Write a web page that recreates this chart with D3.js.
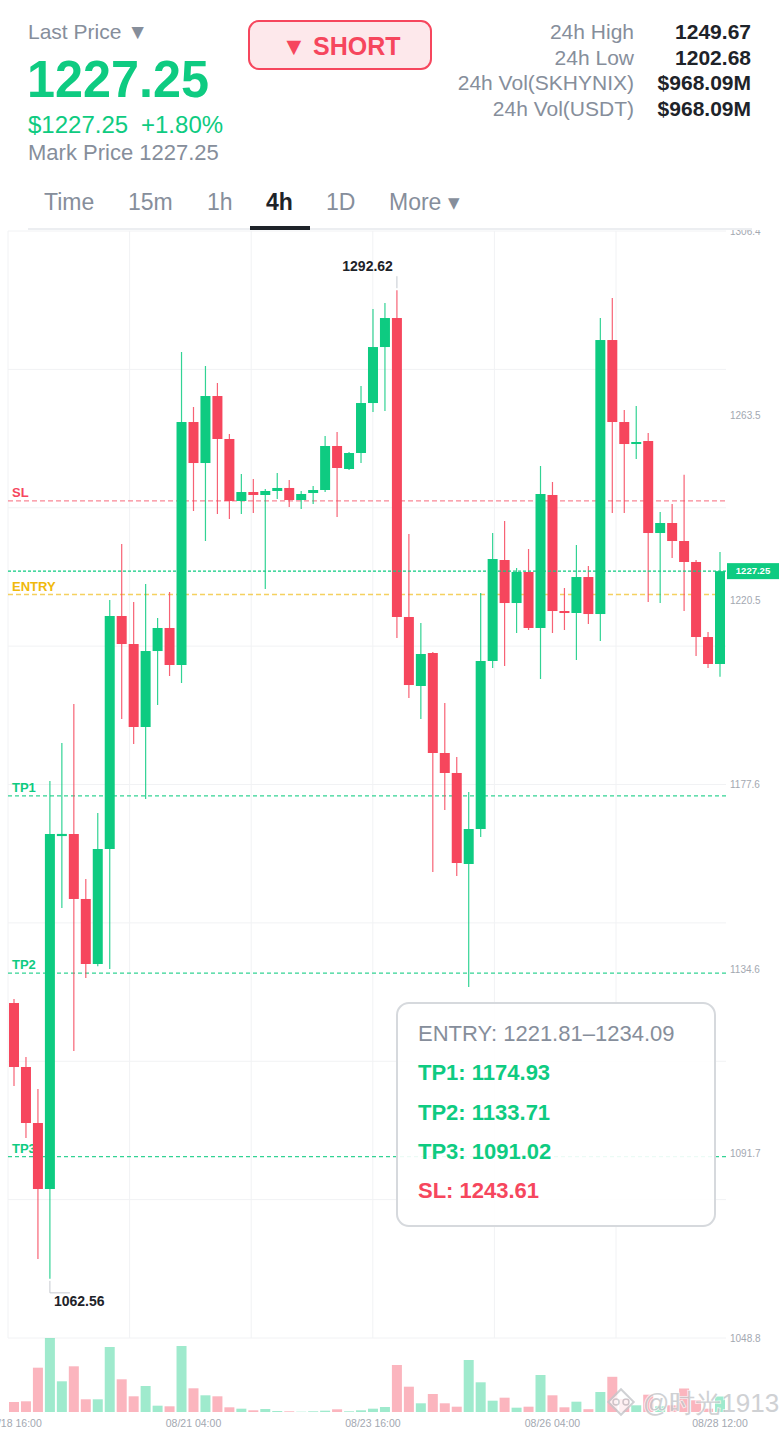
<!DOCTYPE html>
<html><head><meta charset="utf-8">
<script src="https://cdn.jsdelivr.net/npm/d3@7"></script>
<style>
body{margin:0;background:#fff}
svg{display:block}
text{font-family:"Liberation Sans",Arial,Helvetica,sans-serif}
</style>
</head><body>
<svg id="c" width="780" height="1430"></svg>
<script>
// ---------- DATA ----------
const openP = [1126.75,1111.86,1098.83,1083.47,1165.60,1166.08,1150.96,1135.83,1162.59,1216.81,
 1210.29,1190.98,1208.66,1214.02,1205.41,1261.95,1252.41,1268.00,1258.00,1243.57,
 1245.66,1244.97,1245.90,1246.60,1243.80,1245.43,1246.13,1256.37,1251.02,1254.74,
 1266.37,1279.40,1286.15,1216.58,1200.52,1208.20,1184.93,1180.28,1159.10,1167.24,
 1206.34,1229.84,1219.83,1227.05,1214.02,1244.97,1217.97,1217.51,1225.88,1217.27,
 1281.03,1261.95,1256.83,1257.53,1236.12,1238.45,1234.26,1229.38,1211.92,1205.64];
const highP = [1127.69,1114.19,1106.74,1178.41,1187.26,1196.33,1155.61,1170.97,1220.53,1233.56,
 1220.07,1224.26,1216.34,1222.39,1278.24,1265.44,1274.98,1271.03,1259.16,1249.85,
 1248.69,1246.36,1250.09,1248.46,1245.90,1247.06,1258.70,1259.63,1254.97,1270.33,
 1288.25,1289.64,1292.62,1235.89,1215.18,1208.43,1196.56,1184.00,1175.85,1222.16,
 1236.12,1238.92,1227.98,1232.40,1251.71,1247.99,1223.33,1233.33,1228.44,1286.15,
 1290.81,1264.75,1265.68,1259.39,1241.01,1242.87,1249.67,1229.84,1213.09,1231.70];
const lowP = [1107.44,1095.34,1067.18,1062.56,1148.86,1115.58,1132.57,1135.30,1134.67,1192.84,
 1187.02,1174.23,1196.10,1202.85,1201.22,1241.24,1234.26,1240.54,1239.38,1240.54,
 1240.78,1223.09,1244.04,1242.17,1241.71,1242.87,1245.66,1239.85,1250.78,1252.41,
 1264.28,1264.51,1211.69,1197.73,1192.84,1157.24,1171.67,1156.31,1130.48,1165.38,
 1204.71,1205.17,1212.85,1213.55,1202.15,1212.85,1213.55,1206.57,1214.95,1210.99,
 1240.78,1240.78,1253.34,1220.07,1219.83,1230.31,1217.97,1207.50,1204.71,1202.68];
const closeP = [1111.86,1098.83,1083.47,1166.08,1166.10,1150.96,1135.83,1162.59,1216.81,1210.29,
 1190.98,1208.66,1214.02,1205.41,1261.95,1252.41,1268.00,1258.00,1243.57,1245.66,
 1244.97,1245.90,1246.60,1243.80,1245.20,1246.13,1256.37,1251.25,1254.74,1266.37,
 1279.40,1286.15,1216.58,1200.75,1207.97,1184.93,1180.28,1159.33,1167.24,1206.34,
 1230.07,1219.83,1227.05,1214.02,1245.20,1217.97,1217.51,1225.88,1217.27,1281.03,
 1261.95,1256.83,1257.30,1236.12,1238.45,1234.26,1229.38,1211.92,1205.64,1227.25];
const volume = [100,107,443,740,307,457,127,127,650,327,157,260,63,57,660,237,167,157,47,33,
 17,30,10,7,3,7,13,27,7,17,33,50,470,253,87,180,87,53,520,297,
 113,143,43,53,370,167,47,103,28,200,352,130,67,173,57,67,235,117,33,155];

const xTickIndex = [0,15,30,45,59];
const xTickLabels = ["08/18 16:00","08/21 04:00","08/23 16:00","08/26 04:00","08/28 12:00"];
const yTickValues = [1306.4,1263.5,1220.5,1177.6,1134.6,1091.7,1048.8];
const yTickLabels = ["1306.4","1263.5","1220.5","1177.6","1134.6","1091.7","1048.8"];

const levelNames  = ["SL","ENTRY","TP1","TP2","TP3"];
const levelValues = [1243.61,1221.81,1174.93,1133.71,1091.02];
const levelKinds  = ["sl","entry","tp","tp","tp"];
const lastPrice = 1227.25;

const statLabels = ["24h High","24h Low","24h Vol(SKHYNIX)","24h Vol(USDT)"];
const statValues = ["1249.67","1202.68","$968.09M","$968.09M"];
const tabLabels  = ["Time","15m","1h","4h","1D","More \u25BE"];
const activeTab  = "4h";
const infoLines  = [
  {t:"ENTRY: 1221.81\u20131234.09", k:"entry"},
  {t:"TP1: 1174.93", k:"tp"},
  {t:"TP2: 1133.71", k:"tp"},
  {t:"TP3: 1091.02", k:"tp"},
  {t:"SL: 1243.61", k:"sl"}
];
const watermark = "@\u65F6\u51491913";

// ---------- STYLE ----------
const GREEN="#0ecb81", RED="#f6465d", YEL="#f0b90b", GRAY="#868e9b", DARK="#1e2329", AXIS="#a3a8b1";
const col = {sl:RED, entry:YEL, tp:GREEN};

const svg = d3.select("#c");
const n = openP.length;

// scales
const plotL = 8, plotR = 726, plotT = 231, plotB = 1338, volT = 1338, volB = 1412;
const x = d3.scaleLinear().domain([0, n-1]).range([14, 720]);
const y = d3.scaleLinear().domain([d3.min(yTickValues), d3.max(yTickValues)]).range([plotB, plotT]);
const yv = d3.scaleLinear().domain([0, d3.max(volume)]).range([volB, volT]);
const gx = d3.scaleLinear().domain([0, 6]).range([plotL, plotL + 6*121.6]);

// ---------- HEADER ----------
const H = svg.append("g");
H.append("text").attr("x",28).attr("y",39).attr("font-size",21).attr("fill",GRAY).text("Last Price \u25BC");
H.append("text").attr("x",27).attr("y",97).attr("font-size",51).attr("font-weight","bold").attr("fill",GREEN)
  .attr("textLength",182).attr("lengthAdjust","spacingAndGlyphs").text("1227.25");
H.append("text").attr("x",28).attr("y",133).attr("font-size",24).attr("fill",GREEN).text("$1227.25");
H.append("text").attr("x",141).attr("y",133).attr("font-size",24).attr("fill",GREEN).text("+1.80%");
H.append("text").attr("x",28).attr("y",160).attr("font-size",22).attr("fill",GRAY).text("Mark Price 1227.25");

H.append("rect").attr("x",249).attr("y",21).attr("width",182).attr("height",48).attr("rx",10)
  .attr("fill","#fde8eb").attr("stroke",RED).attr("stroke-width",2);
H.append("text").attr("x",341).attr("y",55).attr("text-anchor","middle").attr("font-size",25)
  .attr("font-weight","bold").attr("fill",RED).text("\u25BC SHORT");

const statY = d3.scaleLinear().domain([0,3]).range([39,116]);
statLabels.forEach((s,i)=>{
  H.append("text").attr("x",634).attr("y",statY(i)).attr("text-anchor","end").attr("font-size",21).attr("fill",GRAY).text(s);
  H.append("text").attr("x",751).attr("y",statY(i)).attr("text-anchor","end").attr("font-size",21)
    .attr("font-weight","bold").attr("fill",DARK).text(statValues[i]);
});

const tabX = [44,128,207,266,326,389];
tabLabels.forEach((t,i)=>{
  const a = t===activeTab;
  H.append("text").attr("x",tabX[i]).attr("y",210).attr("font-size",23)
    .attr("font-weight",a?"bold":"normal").attr("fill",a?DARK:GRAY).text(t);
});
H.append("line").attr("x1",28).attr("x2",752).attr("y1",229).attr("y2",229).attr("stroke","#eceef1").attr("stroke-width",2);
H.append("rect").attr("x",250).attr("y",226).attr("width",60).attr("height",4).attr("fill",DARK);

// ---------- CHART ----------
svg.append("clipPath").attr("id","clip").append("rect").attr("x",0).attr("y",230).attr("width",780).attr("height",1200);
const C = svg.append("g").attr("clip-path","url(#clip)");

// grid
C.append("g").selectAll("line").data(d3.range(9)).join("line")
  .attr("x1",plotL).attr("x2",plotR)
  .attr("y1",k=>plotB-(plotB-plotT)*k/8).attr("y2",k=>plotB-(plotB-plotT)*k/8)
  .attr("stroke","#f1f2f4").attr("stroke-width",1);
C.append("g").selectAll("line").data(d3.range(6)).join("line")
  .attr("x1",k=>gx(k)).attr("x2",k=>gx(k)).attr("y1",plotT).attr("y2",plotB)
  .attr("stroke","#f1f2f4").attr("stroke-width",1);

// right axis labels
C.append("g").selectAll("text").data(yTickValues).join("text")
  .attr("x",730).attr("y",d=>y(d)).attr("dy","0.35em").attr("font-size",10).attr("fill",AXIS)
  .text((d,i)=>yTickLabels[i]);

// volume
C.append("g").selectAll("rect").data(volume).join("rect")
  .attr("x",(d,i)=>x(i)-5).attr("width",10)
  .attr("y",d=>yv(d)).attr("height",d=>volB-yv(d))
  .attr("fill",(d,i)=>closeP[i]>=openP[i]?GREEN:RED).attr("fill-opacity",0.4);

// level lines
levelValues.forEach((v,i)=>{
  const k = levelKinds[i];
  C.append("line").attr("x1",plotL).attr("x2",plotR).attr("y1",y(v)).attr("y2",y(v))
    .attr("stroke",col[k]).attr("stroke-opacity",k==="tp"?0.85:0.65).attr("stroke-width",1.3)
    .attr("stroke-dasharray",k==="tp"?"4,3":"5,3");
  C.append("text").attr("x",12).attr("y",y(v)-4).attr("font-size",13).attr("font-weight","bold")
    .attr("fill",col[k]).text(levelNames[i]);
});

// candles
const cg = C.append("g");
d3.range(n).forEach(i=>{
  const up = closeP[i]>=openP[i];
  const c = up?GREEN:RED;
  cg.append("line").attr("x1",x(i)).attr("x2",x(i)).attr("y1",y(highP[i])).attr("y2",y(lowP[i]))
    .attr("stroke",c).attr("stroke-width",1.2).attr("stroke-opacity",0.85);
  const top = y(Math.max(openP[i],closeP[i])), bot = y(Math.min(openP[i],closeP[i]));
  cg.append("rect").attr("x",x(i)-5).attr("width",10).attr("y",top).attr("height",Math.max(2,bot-top)).attr("fill",c);
});

// last price line
C.append("line").attr("x1",plotL).attr("x2",plotR).attr("y1",y(lastPrice)).attr("y2",y(lastPrice))
  .attr("stroke",GREEN).attr("stroke-width",1.2).attr("stroke-dasharray","3,2");
C.append("rect").attr("x",727).attr("y",y(lastPrice)-8).attr("width",52).attr("height",16).attr("fill",GREEN);
C.append("text").attr("x",753).attr("y",y(lastPrice)).attr("dy","0.35em").attr("text-anchor","middle")
  .attr("font-size",9.5).attr("font-weight","bold").attr("fill","#fff").text(lastPrice.toFixed(2));

// high / low markers
const hi = d3.maxIndex(highP), lo = d3.minIndex(lowP);
C.append("line").attr("x1",x(hi)).attr("x2",x(hi)).attr("y1",y(highP[hi])-14).attr("y2",y(highP[hi])-2)
  .attr("stroke","#c5c9d0").attr("stroke-width",1);
C.append("text").attr("x",x(hi)-4).attr("y",y(highP[hi])-19).attr("text-anchor","end")
  .attr("font-size",14).attr("font-weight","bold").attr("fill",DARK).text(highP[hi].toFixed(2));
C.append("path").attr("d",`M${x(lo)},${y(lowP[lo])+2}V${y(lowP[lo])+14}H${x(lo)+20}`)
  .attr("fill","none").attr("stroke","#c5c9d0").attr("stroke-width",1);
C.append("text").attr("x",x(lo)+4).attr("y",y(lowP[lo])+27)
  .attr("font-size",14).attr("font-weight","bold").attr("fill",DARK).text(lowP[lo].toFixed(2));

// x axis labels
C.append("g").selectAll("text").data(xTickIndex).join("text")
  .attr("x",d=>x(d)).attr("y",1427).attr("text-anchor","middle").attr("font-size",10.5).attr("fill",AXIS)
  .text((d,i)=>xTickLabels[i]);

// info box
const B = svg.append("g");
B.append("rect").attr("x",397).attr("y",1003).attr("width",318).attr("height",223).attr("rx",12)
  .attr("fill","#fff").attr("fill-opacity",0.9).attr("stroke","#d6d9dd").attr("stroke-width",2);
const infoY = d3.scaleLinear().domain([0,4]).range([1041,1198]);
infoLines.forEach((l,i)=>{
  B.append("text").attr("x",418).attr("y",infoY(i)).attr("font-size",22)
    .attr("font-weight",l.k==="entry"?"normal":"bold")
    .attr("fill",l.k==="entry"?GRAY:col[l.k]).text(l.t);
});

// watermark (logo + handle)
const W = svg.append("g").attr("opacity",0.8);
W.append("rect").attr("x",-9).attr("y",-9).attr("width",18).attr("height",18)
  .attr("transform","translate(621,1402) rotate(45)")
  .attr("fill","#fff").attr("stroke","#c4c6ca").attr("stroke-width",2);
W.append("circle").attr("cx",616).attr("cy",1402).attr("r",3).attr("fill","none").attr("stroke","#c4c6ca").attr("stroke-width",1.5);
W.append("circle").attr("cx",626).attr("cy",1402).attr("r",3).attr("fill","none").attr("stroke","#c4c6ca").attr("stroke-width",1.5);
W.append("text").attr("x",643).attr("y",1412).attr("font-size",26).attr("fill","#c4c6ca")
  .attr("stroke","#fff").attr("stroke-width",1.5).attr("paint-order","stroke")
  .attr("font-family","'Noto Sans CJK SC',sans-serif").text(watermark);
</script>
</body></html>
